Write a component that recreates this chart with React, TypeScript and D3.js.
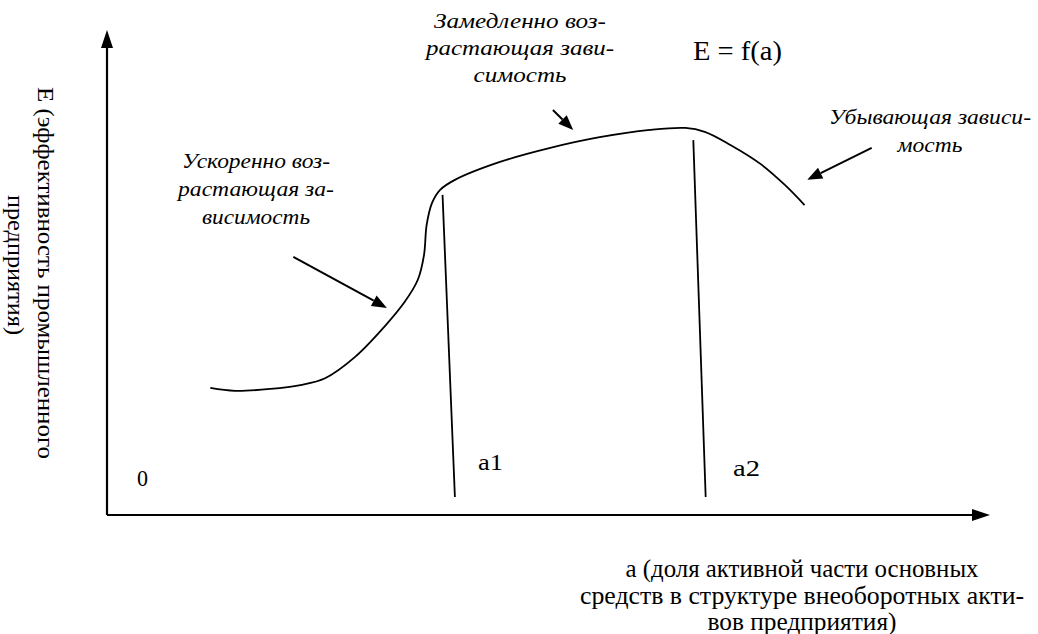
import React from 'react';
import * as d3 from 'd3';

// curve E = f(a) (a and E in 0..100 units of the axes)
const curveA = [11.7, 14.5, 18.5, 21.9, 24.7, 28.1, 31.5, 33.7, 35.2, 35.9, 36.2, 36.8, 37.7, 39.4, 44.5, 50.2, 55.8, 61.5, 65.5, 67.7, 70.6, 74.0, 76.8, 79.0];
const curveE = [26.2, 25.6, 26.0, 26.8, 28.2, 32.6, 39.0, 43.9, 48.5, 53.6, 59.8, 64.3, 67.0, 69.1, 72.8, 75.7, 77.9, 79.4, 79.8, 79.0, 76.3, 72.4, 68.0, 63.9];

// boundary lines a1, a2 (top and bottom ends)
const markerNames = ['a1', 'a2'];
const markerTopA = [38.0, 66.4];
const markerTopE = [66.0, 77.3];
const markerBottomA = [39.4, 67.8];
const markerBottomE = [3.7, 3.7];

// pointer arrows (from -> to)
const arrowFromA = [21.1, 50.5, 86.6];
const arrowFromE = [53.2, 83.5, 75.7];
const arrowToA = [31.7, 52.8, 79.3];
const arrowToE = [42.7, 79.4, 69.1];

const yTitle = ['E (эффективность  промышленного', 'предприятия)'];
const xTitle = ['а (доля активной части основных', 'средств в структуре внеоборотных акти-', 'вов предприятия)'];
const noteAccel = ['Ускоренно воз-', 'растающая за-', 'висимость'];
const noteSlow = ['Замедленно  воз-', 'растающая зави-', 'симость'];
const noteFall = ['Убывающая зависи-', 'мость'];

const W = 1038;
const H = 634;
const serif = "'Liberation Serif', 'DejaVu Serif', 'Times New Roman', Times, serif";

const x = d3.scaleLinear().domain([0, 100]).range([107, 990]);
const y = d3.scaleLinear().domain([0, 100]).range([515, 30]);

const pts: [number, number][] = curveA.map((a, i) => [a, curveE[i]]);
const line = d3.line<[number, number]>()
  .x(d => x(d[0]))
  .y(d => y(d[1]))
  .curve(d3.curveCatmullRom.alpha(0.5));

const Arrow = ({ x1, y1, x2, y2, len = 16, half = 6, sw = 2 }: any) => {
  const ang = Math.atan2(y2 - y1, x2 - x1);
  const bx = x2 - len * Math.cos(ang);
  const by = y2 - len * Math.sin(ang);
  const px = -Math.sin(ang) * half;
  const py = Math.cos(ang) * half;
  return (
    <g>
      <line x1={x1} y1={y1} x2={bx} y2={by} stroke="#000" strokeWidth={sw} />
      <path d={`M${x2},${y2}L${bx + px},${by + py}L${bx - px},${by - py}Z`} fill="#000" />
    </g>
  );
};

// one <text> per line, squeezed/stretched to the width it has in the picture
const Lines = ({ lines, cx, cy, step, size, widths, italic = false }: any) => (
  <g style={{ fontSize: size, fontStyle: italic ? 'italic' : 'normal' }} fill="#000">
    {lines.map((t: string, i: number) => (
      <text key={i} x={cx - widths[i] / 2} y={cy + i * step} textLength={widths[i]} lengthAdjust="spacingAndGlyphs">{t}</text>
    ))}
  </g>
);

export default function App() {
  const x0 = x(0);
  const y0 = y(0);
  const xEnd = x(100);
  const yEnd = y(100);
  return (
    <svg width={W} height={H} style={{ position: 'absolute', left: 0, top: 0, background: '#fff', fontFamily: serif }}>
      {/* axes */}
      <Arrow x1={x0} y1={y0} x2={x0} y2={yEnd} len={18} half={6} sw={2.2} />
      <Arrow x1={x0} y1={y0} x2={xEnd} y2={y0} len={18} half={6} sw={2.2} />

      {/* curve */}
      <path d={line(pts) || ''} fill="none" stroke="#000" strokeWidth={1.8} />

      {/* a1 / a2 boundaries */}
      {markerNames.map((n, i) => (
        <line key={n} x1={x(markerTopA[i])} y1={y(markerTopE[i])} x2={x(markerBottomA[i])} y2={y(markerBottomE[i])} stroke="#000" strokeWidth={1.8} />
      ))}
      <text x={478} y={470} style={{ fontSize: 24 }} textLength={25} lengthAdjust="spacingAndGlyphs" fill="#000">{markerNames[0]}</text>
      <text x={733} y={476} style={{ fontSize: 24 }} textLength={27} lengthAdjust="spacingAndGlyphs" fill="#000">{markerNames[1]}</text>
      <text x={137} y={486} style={{ fontSize: 24 }} textLength={11} lengthAdjust="spacingAndGlyphs" fill="#000">0</text>

      {/* pointers */}
      {arrowFromA.map((a, i) => (
        <Arrow key={i} x1={x(a)} y1={y(arrowFromE[i])} x2={x(arrowToA[i])} y2={y(arrowToE[i])} len={15} half={6} sw={2} />
      ))}

      {/* notes */}
      <Lines lines={noteAccel} cx={256} cy={168} step={28} size={22} widths={[148, 156, 108]} italic />
      <Lines lines={noteSlow} cx={520} cy={28} step={27} size={22} widths={[172, 188, 93]} italic />
      <Lines lines={noteFall} cx={930} cy={124} step={28} size={22} widths={[202, 65]} italic />
      <text x={693} y={60} style={{ fontSize: 28 }} textLength={89} lengthAdjust="spacingAndGlyphs" fill="#000">E = f(a)</text>

      {/* axis titles */}
      <g transform="translate(38,0) rotate(90)" style={{ fontSize: 24 }} fill="#000">
        <text x={87} y={0} textLength={372} lengthAdjust="spacingAndGlyphs">{yTitle[0]}</text>
        <text x={195} y={30} textLength={140} lengthAdjust="spacingAndGlyphs">{yTitle[1]}</text>
      </g>
      <Lines lines={xTitle} cx={802} cy={577} step={26.5} size={25} widths={[353, 444, 189]} />
    </svg>
  );
}
